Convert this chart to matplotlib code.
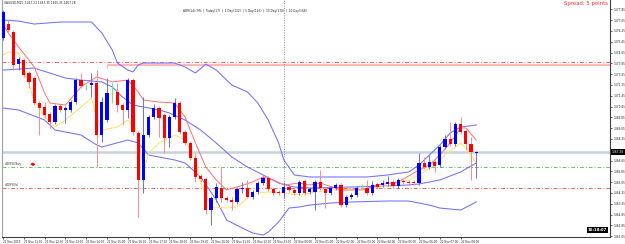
import matplotlib
matplotlib.use('Agg')
import matplotlib.pyplot as plt
import numpy as np

# ---------------- data (XAUUSD, M15) ----------------
opens = [1475.73, 1476.76, 1476.17, 1473.80, 1474.10, 1473.13, 1472.76, 1470.91, 1470.61, 1470.10,
         1469.50, 1470.69, 1470.39, 1470.39, 1470.98, 1472.61, 1472.10, 1472.24, 1472.39, 1468.54,
         1469.65, 1472.02, 1471.73, 1470.76, 1470.39, 1472.61, 1468.69, 1465.21, 1468.54, 1469.87,
         1470.54, 1470.02, 1468.32, 1469.87, 1470.91, 1468.76, 1467.95, 1466.84, 1465.50, 1465.28,
         1462.98, 1463.87, 1464.61, 1463.87, 1463.73, 1463.58, 1464.54, 1464.61, 1463.95, 1464.32,
         1464.98, 1465.35, 1464.54, 1464.32, 1464.24, 1464.69, 1464.47, 1464.24, 1465.13, 1464.32,
         1464.32, 1465.06, 1464.54, 1464.24, 1464.61, 1464.84, 1463.35, 1463.95, 1464.10, 1464.69,
         1464.61, 1464.24, 1464.91, 1464.84, 1464.91, 1465.06, 1464.76, 1465.13, 1465.06, 1465.06,
         1464.98, 1466.47, 1466.17, 1466.54, 1466.32, 1467.65, 1468.24, 1467.87, 1469.35, 1468.84,
         1467.87, 1467.21]
highs = [1477.80, 1477.06, 1476.32, 1474.32, 1474.24, 1473.28, 1472.91, 1471.06, 1470.98, 1470.24,
         1470.84, 1470.84, 1470.69, 1471.13, 1472.76, 1473.13, 1472.32, 1473.13, 1473.35, 1471.35,
         1472.76, 1472.39, 1472.39, 1470.91, 1472.76, 1472.76, 1468.84, 1471.35, 1470.02, 1470.84,
         1470.69, 1470.17, 1470.02, 1471.28, 1471.06, 1468.91, 1468.10, 1467.21, 1465.65, 1465.43,
         1464.02, 1464.98, 1466.17, 1464.02, 1463.95, 1464.69, 1465.06, 1465.21, 1464.47, 1465.13,
         1465.50, 1465.50, 1464.69, 1464.47, 1465.06, 1464.84, 1464.61, 1465.21, 1465.28, 1464.69,
         1465.21, 1465.95, 1464.69, 1464.76, 1464.98, 1464.98, 1464.10, 1464.24, 1464.76, 1464.91,
         1465.21, 1465.13, 1465.06, 1465.21, 1465.50, 1465.21, 1465.35, 1465.28, 1465.21, 1465.21,
         1467.21, 1466.91, 1467.06, 1466.69, 1467.80, 1468.54, 1469.50, 1469.50, 1469.87, 1468.98,
         1468.39, 1467.35]
lows = [1475.58, 1476.17, 1473.35, 1473.35, 1472.84, 1472.02, 1470.76, 1468.54, 1469.80, 1469.06,
        1469.35, 1470.24, 1469.43, 1470.24, 1470.84, 1472.02, 1471.87, 1471.35, 1466.17, 1468.02,
        1469.50, 1470.91, 1470.24, 1469.28, 1469.80, 1468.54, 1462.47, 1464.24, 1468.39, 1469.72,
        1468.39, 1467.21, 1467.65, 1469.72, 1468.61, 1467.80, 1466.69, 1465.06, 1465.06, 1462.69,
        1461.87, 1463.58, 1463.58, 1463.58, 1462.98, 1463.43, 1464.24, 1463.95, 1463.80, 1464.17,
        1464.84, 1464.39, 1464.10, 1464.10, 1463.87, 1464.32, 1464.10, 1464.10, 1464.10, 1464.17,
        1462.98, 1464.47, 1463.13, 1464.10, 1464.47, 1463.21, 1463.21, 1463.80, 1463.95, 1464.47,
        1464.10, 1464.10, 1464.54, 1464.69, 1464.76, 1464.61, 1464.61, 1464.91, 1464.84, 1464.84,
        1464.84, 1466.02, 1466.02, 1465.80, 1466.17, 1467.50, 1467.72, 1467.72, 1468.61, 1467.43,
        1465.21, 1465.35]
closes = [1477.65, 1476.32, 1473.73, 1474.17, 1472.98, 1472.47, 1470.91, 1470.54, 1470.02, 1469.50,
          1470.69, 1470.39, 1470.54, 1470.98, 1472.61, 1472.17, 1472.10, 1472.39, 1468.54, 1470.98,
          1471.65, 1472.02, 1470.76, 1470.39, 1472.61, 1468.76, 1465.21, 1468.54, 1469.87, 1470.54,
          1469.80, 1468.32, 1469.87, 1470.91, 1468.76, 1467.95, 1466.84, 1465.43, 1465.28, 1462.98,
          1463.87, 1464.69, 1463.87, 1463.73, 1463.58, 1464.54, 1464.61, 1463.95, 1464.32, 1464.98,
          1465.35, 1464.54, 1464.24, 1464.24, 1464.69, 1464.47, 1464.24, 1465.06, 1464.24, 1464.54,
          1465.06, 1464.61, 1464.24, 1464.61, 1464.84, 1463.35, 1463.95, 1464.10, 1464.61, 1464.69,
          1464.24, 1464.84, 1464.69, 1464.98, 1465.06, 1464.76, 1465.21, 1465.06, 1464.98, 1464.98,
          1466.47, 1466.17, 1466.54, 1466.24, 1467.65, 1468.24, 1467.87, 1469.35, 1468.76, 1467.87,
          1467.28, 1467.28]

bb_upper_idx = [0, 3, 6, 11, 17, 19, 21, 22, 24, 25, 26, 27, 30, 33, 35, 37, 39, 41, 44, 47, 49, 51,
                53, 54, 56, 59, 63, 70, 74, 78, 80, 82, 84, 86, 88, 91]
bb_upper = [1477.06, 1476.98, 1476.76, 1476.91, 1476.91, 1476.10, 1474.84, 1473.87, 1473.35, 1473.21,
            1473.73, 1473.87, 1473.87, 1473.87, 1473.58, 1473.13, 1473.80, 1473.35, 1472.24, 1471.73,
            1470.91, 1469.65, 1467.95, 1466.69, 1465.58, 1465.43, 1465.43, 1465.43, 1465.58, 1465.80,
            1466.32, 1467.06, 1467.80, 1468.69, 1469.13, 1469.28]
bb_mid_idx = [0, 6, 9, 12, 15, 19, 21, 23, 25, 28, 30, 32, 35, 38, 41, 44, 47, 50, 53, 56, 59, 67,
              74, 78, 80, 84, 88, 91]
bb_mid = [1473.35, 1473.50, 1473.13, 1472.76, 1472.61, 1472.47, 1472.10, 1471.35, 1470.76, 1470.54,
          1470.39, 1470.17, 1469.65, 1468.91, 1467.95, 1466.91, 1466.17, 1465.58, 1464.98, 1464.69,
          1464.61, 1464.69, 1464.76, 1464.84, 1464.91, 1465.21, 1465.80, 1466.47]
bb_lower_idx = [0, 3, 8, 10, 15, 18, 19, 24, 26, 28, 30, 33, 35, 38, 41, 43, 46, 48, 50, 51, 53, 55,
                57, 59, 63, 67, 74, 78, 82, 84, 88, 91]
bb_lower = [1470.54, 1470.39, 1469.65, 1468.91, 1468.54, 1467.80, 1467.65, 1468.17, 1467.95, 1467.06,
            1466.91, 1466.69, 1466.47, 1465.43, 1463.73, 1462.24, 1461.65, 1461.28, 1461.13, 1461.35,
            1462.10, 1463.13, 1463.21, 1463.35, 1463.50, 1463.58, 1463.65, 1463.65, 1463.35, 1463.13,
            1462.98, 1463.58]
ma_fast_idx = [0, 1, 3, 6, 8, 9, 12, 15, 17, 18, 21, 24, 26, 27, 30, 33, 35, 37, 39, 41, 43, 45, 48,
               50, 52, 54, 57, 59, 61, 65, 69, 72, 76, 80, 82, 84, 86, 88, 89, 91]
ma_fast = [1476.69, 1476.10, 1475.06, 1473.58, 1471.65, 1470.91, 1470.76, 1472.10, 1472.61, 1472.84,
           1472.47, 1472.61, 1471.73, 1471.13, 1470.98, 1470.91, 1469.87, 1467.95, 1466.17, 1465.21,
           1464.47, 1464.69, 1465.06, 1465.43, 1465.21, 1464.84, 1464.98, 1464.84, 1464.98, 1464.47,
           1464.47, 1464.84, 1465.06, 1465.95, 1466.32, 1467.06, 1467.95, 1469.06, 1469.06, 1468.17]
ma_slow_idx = [0, 1, 3, 6, 8, 10, 12, 15, 17, 18, 19, 22, 24, 26, 27, 28, 30, 32, 33, 35, 37, 38, 40,
               43, 45, 47, 49, 51, 54, 57, 59, 63, 67, 71, 74, 78, 80, 83, 85, 88, 89, 91]
ma_slow = [1474.47, 1474.69, 1474.61, 1471.13, 1469.87, 1469.13, 1469.65, 1470.61, 1471.28, 1469.87,
           1468.91, 1469.13, 1469.65, 1468.69, 1465.73, 1467.21, 1467.95, 1468.32, 1468.54, 1468.17,
           1466.69, 1464.98, 1463.21, 1463.13, 1463.21, 1463.87, 1464.24, 1464.32, 1464.24, 1464.10,
           1464.24, 1464.47, 1464.47, 1464.61, 1464.76, 1465.21, 1465.58, 1466.32, 1467.06, 1467.95,
           1467.58, 1466.47]

ytick_vals = [1477.85, 1477.05, 1476.25, 1475.45, 1474.65, 1473.85, 1473.05, 1472.25, 1471.45, 1470.65,
              1469.85, 1469.05, 1468.25, 1467.45, 1466.65, 1465.85, 1465.05, 1464.25, 1463.45, 1462.65,
              1461.85, 1461.05]
xtick_idx = [0, 4, 8, 12, 16, 20, 24, 28, 32, 36, 40, 44, 48, 52, 56, 60, 64, 68, 72, 76, 80, 84, 88]
xtick_labels = ["21 Nov 2019", "21 Nov 11:00", "21 Nov 12:00", "21 Nov 13:00", "21 Nov 14:00",
                "21 Nov 15:00", "21 Nov 16:00", "21 Nov 17:00", "21 Nov 18:00", "21 Nov 19:00",
                "21 Nov 20:00", "21 Nov 21:00", "21 Nov 22:00", "21 Nov 23:00", "22 Nov 00:00",
                "22 Nov 01:00", "22 Nov 02:00", "22 Nov 03:00", "22 Nov 04:00", "22 Nov 05:00",
                "22 Nov 06:00", "22 Nov 07:00", "22 Nov 08:00"]

level_sl_top = 1473.95      # red dash-dot
level_zone = 1473.69        # pink line
level_buy = 1466.17         # green dash-dot
level_sl = 1464.61          # red dash-dot
bid_price = 1467.28
separator_idx = 54

title_text = "XAUUSD,M15  1467.21 1467.35 1465.35 1467.28"
adr_text = "ADR(14): 9%  |  Today(17)  |  1 Day(132)  |  5 Day(126)  |  10 Day(178)  |  20 Day(168)"
spread_text = "Spread: 5 points"
timer_text = "10:18:07"

# ---------------- drawing ----------------
W, H = 625, 244
fig = plt.figure(figsize=(W / 100, H / 100), dpi=100)
ax_l, ax_r, ax_t, ax_b = 2, 610, 0, 237
ax = fig.add_axes([ax_l / W, (H - ax_b) / H, (ax_r - ax_l) / W, (ax_b - ax_t) / H])
ax.set_facecolor('white')

n = len(opens)
idx = np.arange(n)
o = np.array(opens); c = np.array(closes); hi = np.array(highs); lo = np.array(lows)

# indicator lines (behind candles)
ax.plot(bb_upper_idx, bb_upper, color='#7070ff', lw=0.75, zorder=2)
ax.plot(bb_mid_idx, bb_mid, color='#7070ff', lw=0.75, zorder=2)
ax.plot(bb_lower_idx, bb_lower, color='#7070ff', lw=0.75, zorder=2)
ax.plot(ma_slow_idx, ma_slow, color='#ffe066', lw=0.7, zorder=2)
ax.plot(ma_fast_idx, ma_fast, color='#ff7070', lw=0.7, zorder=2)

# horizontal levels
dashdot = (0, (4, 2, 1, 2))
ax.axhline(level_sl_top, color='#ff6060', lw=0.7, ls=dashdot, zorder=1)
ax.plot([20, 200], [level_zone, level_zone], color='#ffb8b8', lw=1.6, zorder=1,
        solid_capstyle='butt')
ax.vlines(20, level_zone - 0.2, level_zone, color='#ffb8b8', lw=0.8, zorder=1)
ax.axhline(level_buy, color='#70c070', lw=0.7, ls=dashdot, zorder=1)
ax.axhline(level_sl, color='#ff6060', lw=0.7, ls=dashdot, zorder=1)
ax.axhline(bid_price, color='#c8d2dc', lw=1.8, zorder=1)
ax.axvline(separator_idx, color='#909090', lw=0.7, ls=(0, (1, 1.5)), zorder=1)

# candles
bull = c > o
bear = c < o
doji = c == o
ax.vlines(idx[bull], lo[bull], hi[bull], color='#6a6aff', lw=0.7, zorder=3)
ax.vlines(idx[bear], lo[bear], hi[bear], color='#ff8a8a', lw=0.7, zorder=3)
ax.vlines(idx[doji], lo[doji], hi[doji], color='#80e080', lw=0.9, zorder=3)
bw = 0.62
minh = 0.06
ax.bar(idx[bull], np.maximum(c[bull] - o[bull], minh), bottom=o[bull], width=bw,
       color='#0000ff', linewidth=0, zorder=4)
ax.bar(idx[bear], np.maximum(o[bear] - c[bear], minh), bottom=c[bear], width=bw,
       color='#ff0000', linewidth=0, zorder=4)
ax.bar(idx[doji], minh, bottom=o[doji] - minh / 2, width=bw, color='#33cc33', linewidth=0, zorder=4)

# axes
xmin = -0.2
xmax = xmin + (ax_r - ax_l) / 5.2
ymax = 1478.54
ymin = ymax - (ax_b - ax_t) / 13.5
ax.set_xlim(xmin, xmax)
ax.set_ylim(ymin, ymax)

ax.yaxis.tick_right()
ax.set_yticks(ytick_vals)
# the tick label hidden under the bid box in the reference is left blank
ax.set_yticklabels(["" if abs(v - bid_price) < 0.3 else f"{v:.2f}" for v in ytick_vals])
ax.tick_params(axis='y', labelsize=2.1, length=1.5, width=0.5, pad=0.8, colors='#222222')
ax.set_xticks(xtick_idx)
ax.set_xticklabels(xtick_labels, ha='left')
ax.tick_params(axis='x', labelsize=2.0, length=1.5, width=0.5, pad=0.6, colors='#222222')
ax.spines['top'].set_visible(False)
ax.spines['left'].set_color('#a0a0a0')
ax.spines['left'].set_linewidth(0.8)
ax.spines['right'].set_color('#404040')
ax.spines['right'].set_linewidth(0.8)
ax.spines['bottom'].set_color('#404040')
ax.spines['bottom'].set_linewidth(0.8)

# current bid label on the price axis
ax.text(1.003, bid_price, f"{bid_price:.2f}", transform=ax.get_yaxis_transform(),
        fontsize=2.1, color='white', va='center', ha='left', zorder=10,
        bbox=dict(boxstyle='square,pad=0.45', fc='black', ec='black', lw=0))

# texts
ax.text(0.004, 0.995, title_text, transform=ax.transAxes, fontsize=2.1, color='#222222',
        va='top', ha='left')
ax.text(0.297, 0.962, adr_text, transform=ax.transAxes, fontsize=2.1, color='#222222',
        va='top', ha='left')
ax.text(0.9975, 0.997, spread_text, transform=ax.transAxes, fontsize=3.9, color='#ff3030',
        va='top', ha='right')
ax.text(0.995, 0.022, timer_text, transform=ax.transAxes, fontsize=2.8, color='white',
        va='bottom', ha='right', fontweight='bold',
        bbox=dict(boxstyle='square,pad=0.2', fc='black', ec='black', lw=0))

# order labels on the left
ax.text(0.3, level_buy + 0.1, "#40390(buy", fontsize=2.0, color='#333333', va='bottom', ha='left')
ax.annotate("", xy=(4.6, level_buy + 0.2), xytext=(6.6, level_buy + 0.2),
            arrowprops=dict(arrowstyle='-|>', color='red', lw=1.0, mutation_scale=3.5))
ax.text(0.3, level_sl + 0.1, "#40390(sl", fontsize=2.0, color='#333333', va='bottom', ha='left')

fig.savefig('out.png', dpi=100)
